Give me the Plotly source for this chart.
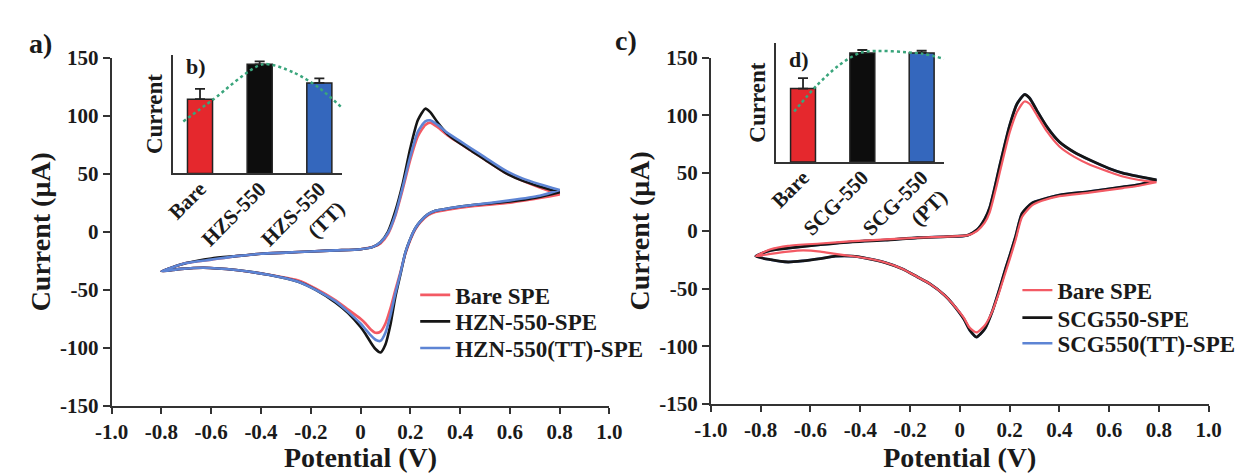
import plotly.graph_objects as go

# ---------------- data ----------------
x_ticks = [-1.0, -0.8, -0.6, -0.4, -0.2, 0.0, 0.2, 0.4, 0.6, 0.8, 1.0]
x_tick_text = ["-1.0", "-0.8", "-0.6", "-0.4", "-0.2", "0", "0.2", "0.4", "0.6", "0.8", "1.0"]
y_ticks = [-150, -100, -50, 0, 50, 100, 150]
y_tick_text = ["-150", "-100", "-50", "0", "50", "100", "150"]

# Panel a (HZN) : forward and reverse sweeps
a_fwd_V = [-0.80, -0.70, -0.60, -0.50, -0.40, -0.30, -0.20, -0.10, 0.00, 0.05, 0.08, 0.11, 0.14,
           0.17, 0.20, 0.23, 0.26, 0.28, 0.31, 0.35, 0.40, 0.45, 0.50, 0.58, 0.65, 0.72, 0.80]
a_rev_V = [0.80, 0.72, 0.60, 0.45, 0.35, 0.30, 0.27, 0.24, 0.22, 0.20, 0.18, 0.16, 0.14, 0.12,
           0.10, 0.08, 0.06, 0.04, 0.02, 0.00, -0.05, -0.10, -0.18, -0.25, -0.37, -0.50, -0.63, -0.72, -0.80]
a_bare_fwd = [-34, -27, -24, -21, -19, -18, -17, -16, -15, -13, -10, -2, 14, 37, 62, 82, 92, 94, 90,
              83, 76, 69, 62, 51, 44, 38, 32]
a_bare_rev = [32, 29, 25, 22, 19, 17, 14, 8, 2, -7, -19, -35, -50, -66, -79, -86, -87, -84, -79, -75,
              -67, -59, -49, -42, -37, -33, -31, -32, -34]
a_hzn_fwd = [-34, -27, -23, -21, -19, -18, -17, -16, -15, -13, -9, 0, 18, 42, 72, 96, 106, 103, 94,
             84, 76, 69, 62, 51, 44, 39, 34]
a_hzn_rev = [34, 30, 26, 23, 20, 18, 15, 9, 3, -6, -18, -37, -56, -80, -97, -104, -101, -95, -88, -82,
             -70, -61, -50, -43, -37, -33, -31, -32, -34]
a_tt_fwd = [-34, -27, -24, -21, -19, -18, -17, -16, -15, -13, -9, -1, 15, 39, 65, 86, 95, 96, 92,
            85, 78, 71, 64, 53, 46, 41, 36]
a_tt_rev = [36, 31, 27, 23, 20, 18, 15, 9, 3, -6, -18, -36, -53, -72, -87, -94, -93, -89, -84, -79,
            -69, -60, -50, -43, -37, -33, -31, -32, -34]

# Panel c (SCG)
c_fwd_V = [-0.82, -0.76, -0.69, -0.56, -0.43, -0.30, -0.17, -0.05, 0.03, 0.07, 0.10, 0.12, 0.14, 0.16,
           0.18, 0.20, 0.23, 0.26, 0.28, 0.31, 0.35, 0.40, 0.46, 0.525, 0.60, 0.655, 0.72, 0.79]
c_rev_V = [0.79, 0.72, 0.655, 0.52, 0.40, 0.33, 0.29, 0.25, 0.224, 0.20, 0.185, 0.16, 0.13, 0.10, 0.067,
           0.04, 0.015, -0.03, -0.06, -0.12, -0.17, -0.23, -0.30, -0.37, -0.43, -0.50, -0.56, -0.63,
           -0.69, -0.76, -0.82]
c_bare_fwd = [-22, -16, -13, -11, -9, -7.5, -6, -5, -4, 0, 7, 16, 32, 50, 68, 85, 103, 112, 110, 100,
              86, 73, 64, 57, 51, 47, 44, 42]
c_bare_rev = [42, 39, 37, 33, 30, 26, 22, 12, -8, -25, -35, -52, -70, -82, -88, -84, -75, -63, -56, -46,
              -40, -33, -27.5, -24, -22, -20, -18, -17, -18, -20, -22]
c_scg_fwd = [-22, -17, -15, -12, -9.5, -8, -6, -5, -4, 1, 10, 20, 37, 56, 74, 91, 110, 118, 115, 104,
             90, 77, 68, 61, 54, 50, 47, 44]
c_scg_rev = [44, 40, 38, 34, 31, 27, 24, 15, -5, -22, -32, -50, -70, -85, -92, -86, -76, -63, -56, -46,
             -40, -33, -27.5, -24, -22, -22, -24, -26, -27, -25, -22]
c_tt_fwd = [-22, -17, -15, -12, -9.5, -8, -6, -5, -4, 1, 10, 20, 37, 56, 74, 91, 110, 118, 115, 104,
            90, 77, 68, 61, 54, 50, 47, 44]
c_tt_rev = [44, 40, 38, 34, 31, 27, 24, 15, -5, -22, -32, -50, -70, -85, -92, -86, -76, -63, -56, -46,
            -40, -33, -27.5, -24, -22, -22, -24, -26, -27, -25, -22]

# Inset b
b_pos = [0, 1, 2]
b_labels = ["Bare", "HZS-550", "HZS-550<br>(TT)"]
b_values = [100, 147, 122]
b_errors = [14, 4, 6]
b_trend_x = [-0.28, 0.21, 1.05, 1.57, 2.0, 2.4]
b_trend_y = [70, 99, 147, 136, 115, 87]

# Inset d
d_pos = [0, 1, 2]
d_labels = ["Bare", "SCG-550", "SCG-550<br>(PT)"]
d_values = [99, 147, 147]
d_errors = [14, 4, 3]
d_trend_x = [-0.15, 0.23, 0.6, 1.0, 2.0, 2.38]
d_trend_y = [68, 103, 130, 148, 146, 139]

# ---------------- styles ----------------
RED = "#f35a64"
BLACK = "#151515"
BLUE = "#5d84d4"
BAR_RED = "#e5282d"
BAR_BLACK = "#0d0d0d"
BAR_BLUE = "#3467bd"
GREEN = "#3aa57c"
AXC = "#333333"
SERIF = "Liberation Serif"
W, H = 1250, 473


def bfont(size, color="#1a1a1a"):
    return dict(family=SERIF, size=size, color=color, weight="bold")


fig = go.Figure()


def add_cv(V, I, name, color, xa, ya, legend, width):
    fig.add_trace(go.Scatter(
        x=V, y=I, mode="lines", name=name,
        line=dict(color=color, width=width, shape="spline", smoothing=0.6),
        xaxis=xa, yaxis=ya, legend=legend, showlegend=True,
    ))


add_cv(a_fwd_V + a_rev_V, a_bare_fwd + a_bare_rev, "Bare SPE", RED, "x", "y", "legend", 2.6)
add_cv(a_fwd_V + a_rev_V, a_hzn_fwd + a_hzn_rev, "HZN-550-SPE", BLACK, "x", "y", "legend2", 2.6)
add_cv(a_fwd_V + a_rev_V, a_tt_fwd + a_tt_rev, "HZN-550(TT)-SPE", BLUE, "x", "y", "legend3", 2.6)
# right panel: blue trace lies beneath the black one
add_cv(c_fwd_V + c_rev_V, c_tt_fwd + c_tt_rev, "SCG550(TT)-SPE", BLUE, "x2", "y2", "legend6", 2.6)
add_cv(c_fwd_V + c_rev_V, c_scg_fwd + c_scg_rev, "SCG550-SPE", BLACK, "x2", "y2", "legend5", 2.8)
add_cv(c_fwd_V + c_rev_V, c_bare_fwd + c_bare_rev, "Bare SPE", RED, "x2", "y2", "legend4", 2.2)

# insets
for pos, vals, errs, tx, ty, xa, ya in [
    (b_pos, b_values, b_errors, b_trend_x, b_trend_y, "x3", "y3"),
    (d_pos, d_values, d_errors, d_trend_x, d_trend_y, "x4", "y4"),
]:
    fig.add_trace(go.Bar(
        x=pos, y=vals, width=0.42,
        marker=dict(color=[BAR_RED, BAR_BLACK, BAR_BLUE], line=dict(color="#222", width=1.5)),
        error_y=dict(type="data", array=errs, arrayminus=[0, 0, 0], symmetric=False,
                     color="#222", thickness=1.8, width=5),
        xaxis=xa, yaxis=ya, showlegend=False))
    fig.add_trace(go.Scatter(
        x=tx, y=ty, mode="lines",
        line=dict(color=GREEN, width=2.5, dash="dot", shape="spline", smoothing=0.8),
        xaxis=xa, yaxis=ya, showlegend=False))

main_x = dict(range=[-1, 1], tickvals=x_ticks, ticktext=x_tick_text, showline=True, linecolor=AXC,
              linewidth=2, ticks="outside", ticklen=6, tickwidth=1.5, tickcolor=AXC,
              showgrid=False, zeroline=False, tickfont=bfont(21),
              title=dict(text="Potential (V)", font=bfont(28), standoff=7))
main_y = dict(range=[-150, 150], tickvals=y_ticks, ticktext=y_tick_text, showline=True,
              linecolor=AXC, linewidth=2, ticks="outside", ticklen=7, tickwidth=1.5, tickcolor=AXC,
              showgrid=False, zeroline=False, tickfont=bfont(21),
              title=dict(text="Current (μA)", font=bfont(28), standoff=1))

inset_x = dict(range=[-0.45, 2.38], tickvals=[0, 1, 2], tickangle=-45, showline=True,
               linecolor=AXC, linewidth=2, ticks="", showgrid=False, zeroline=False,
               tickfont=bfont(21), ticklabelstandoff=-7)
inset_y = dict(range=[0, 160], showline=True, linecolor=AXC, linewidth=2, ticks="",
               showticklabels=False, showgrid=False, zeroline=False,
               title=dict(text="Current", font=bfont(23), standoff=2))


def leg(x_px, y_px):
    return dict(x=x_px / W, y=1 - y_px / H, xanchor="left", yanchor="middle",
                font=bfont(23), bgcolor="rgba(0,0,0,0)", itemwidth=30)


fig.update_layout(
    width=W, height=H,
    margin=dict(l=0, r=0, t=0, b=0),
    paper_bgcolor="white", plot_bgcolor="rgba(0,0,0,0)",
    xaxis=dict(main_x, domain=[97 / W, 607 / W], anchor="y"),
    yaxis=dict(main_y, domain=[(H - 415) / H, (H - 48) / H], anchor="x"),
    xaxis2=dict(main_x, domain=[711 / W, 1221 / W], anchor="y2"),
    yaxis2=dict(main_y, domain=[(H - 413) / H, (H - 48) / H], anchor="x2"),
    xaxis3=dict(inset_x, domain=[160 / W, 333 / W], anchor="y3", ticktext=b_labels),
    yaxis3=dict(inset_y, domain=[(H - 170) / H, (H - 45) / H], anchor="x3"),
    xaxis4=dict(inset_x, domain=[778 / W, 950 / W], anchor="y4", ticktext=d_labels),
    yaxis4=dict(inset_y, domain=[(H - 158) / H, (H - 33) / H], anchor="x4"),
    legend=leg(408, 298), legend2=leg(408, 326), legend3=leg(408, 354),
    legend4=leg(1025, 293), legend5=leg(1025, 322), legend6=leg(1025, 349),
    showlegend=True,
)

annos = [
    dict(text="a)", x=10 / W, y=1 - 33 / H, font=bfont(28)),
    dict(text="c)", x=611 / W, y=1 - 30 / H, font=bfont(28)),
    dict(text="b)", x=171 / W, y=1 - 57 / H, font=bfont(22)),
    dict(text="d)", x=789 / W, y=1 - 50 / H, font=bfont(22)),
]
for a in annos:
    fig.add_annotation(xref="paper", yref="paper", xanchor="left", yanchor="middle",
                       showarrow=False, **a)

fig.write_html("out.html")
